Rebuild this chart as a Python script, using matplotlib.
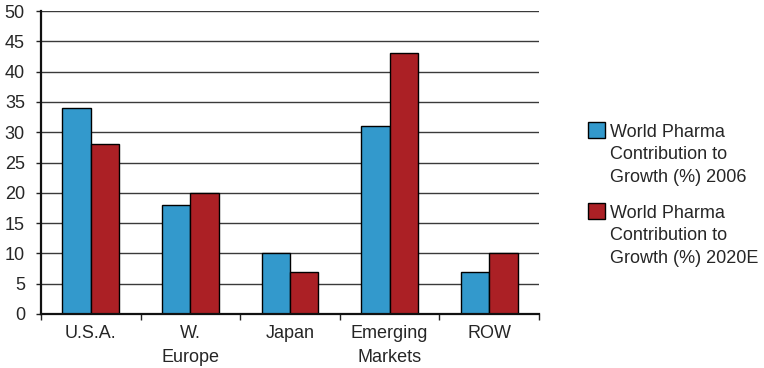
import matplotlib
matplotlib.use("Agg")
import matplotlib.pyplot as plt
import numpy as np
from matplotlib.patches import Rectangle

regions = ["U.S.A.", "W.\nEurope", "Japan", "Emerging\nMarkets", "ROW"]
growth_2006 = [34, 18, 10, 31, 7]
growth_2020e = [28, 20, 7, 43, 10]
series_labels = ["World Pharma\nContribution to\nGrowth (%) 2006",
                 "World Pharma\nContribution to\nGrowth (%) 2020E"]
y_ticks = [0, 5, 10, 15, 20, 25, 30, 35, 40, 45, 50]

blue = "#3399cc"
red = "#ab2025"
text_color = "#262626"

plt.rcParams["font.family"] = ["Liberation Sans", "DejaVu Sans"]
plt.rcParams["font.size"] = 13

fig = plt.figure(figsize=(7.64, 3.68), dpi=100)
ax = fig.add_axes([41 / 764, 54 / 368, 498 / 764, 303 / 368])

x = np.arange(len(regions))
w = 0.286
ax.bar(x - w / 2, growth_2006, w, color=blue, edgecolor="black", linewidth=1.0, zorder=3)
ax.bar(x + w / 2, growth_2020e, w, color=red, edgecolor="black", linewidth=1.0, zorder=3)

ax.set_xlim(-0.5, len(regions) - 0.5)
ax.set_ylim(0, 50)
ax.set_yticks(y_ticks)
ax.set_yticklabels([str(v) for v in y_ticks], color=text_color)
ax.yaxis.grid(True, color="#3a3a3a", linewidth=1.0, zorder=0)
ax.set_axisbelow(True)

ax.set_xticks(x)
ax.set_xticklabels(regions, color=text_color, linespacing=1.54)
ax.set_xticks(np.arange(len(regions) + 1) - 0.5, minor=True)
ax.tick_params(axis="x", which="major", length=0, pad=8)
ax.tick_params(axis="x", which="minor", length=4.3, width=1.0, direction="out", color="#222222")
ax.tick_params(axis="y", length=3.6, width=1.0, pad=8, color="#222222")

for side in ("top", "right"):
    ax.spines[side].set_visible(False)
for side in ("left", "bottom"):
    ax.spines[side].set_linewidth(1.6)
    ax.spines[side].set_color("#111111")
    ax.spines[side].set_zorder(4)

# Legend: square swatch aligned to the first line of each label
W, H = 764, 368
swatch_tops = [122, 203]
for color, label, top in zip([blue, red], series_labels, swatch_tops):
    fig.patches.append(Rectangle((588 / W, 1 - (top + 16) / H), 17 / W, 16 / H,
                                 transform=fig.transFigure, facecolor=color,
                                 edgecolor="black", linewidth=1.0))
    fig.text(610 / W, 1 - (top + 2) / H, label, ha="left", va="top",
             color=text_color, fontsize=13, linespacing=1.42)

fig.savefig("out.png", dpi=100)
